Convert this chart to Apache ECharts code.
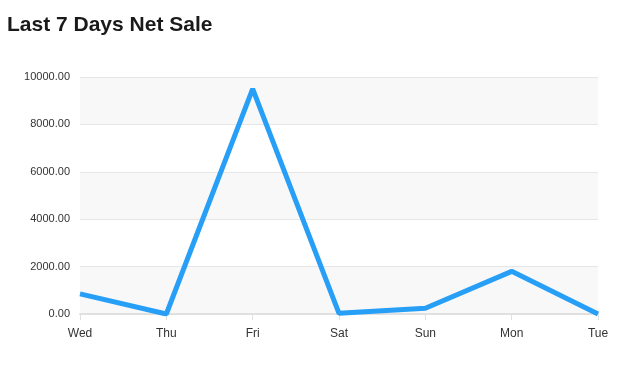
<!DOCTYPE html>
<html><head><meta charset="utf-8">
<script src="https://cdn.jsdelivr.net/npm/echarts@6/dist/echarts.min.js"></script>
<style>html,body{margin:0;padding:0;background:#fff}#c{width:625px;height:391px}</style>
</head><body><div id="c"></div>
<script>
var categories = ['Wed','Thu','Fri','Sat','Sun','Mon','Tue'];
var netSale = [850, 0, 9500, 30, 240, 1800, 0];
var yTicks = [0, 2000, 4000, 6000, 8000, 10000];

var chart = echarts.init(document.getElementById('c'));
chart.setOption({
  animation: false,
  title: {
    text: 'Last 7 Days Net Sale',
    left: 2, top: 10,
    textStyle: {fontFamily: 'Liberation Sans, Arial, sans-serif', fontSize: 21, fontWeight: 'bold', color: '#1a1a1a'}
  },
  grid: {left: 80, right: 27, top: 77, bottom: 77},
  xAxis: {
    type: 'category', data: categories, boundaryGap: false,
    axisLine: {lineStyle: {color: '#e0e0e0', width: 2}},
    axisTick: {show: true, length: 6, lineStyle: {color: '#e0e0e0'}},
    axisLabel: {color: '#333', fontSize: 12, fontFamily: 'Liberation Sans, Arial, sans-serif', margin: 14}
  },
  yAxis: {
    type: 'value', min: yTicks[0], max: yTicks[yTicks.length-1], interval: 2000,
    axisLine: {show: false}, axisTick: {show: false},
    axisLabel: {color: '#333', fontSize: 11, fontFamily: 'Liberation Sans, Arial, sans-serif', margin: 10,
      formatter: function(v){ return v.toFixed(2); }},
    splitLine: {lineStyle: {color: '#e6e6e6'}},
    splitArea: {show: true, areaStyle: {color: ['#f8f8f8', '#ffffff']}}
  },
  series: [{
    type: 'line', data: netSale, showSymbol: false, symbol: 'none',
    lineStyle: {color: '#279ff7', width: 5}, itemStyle: {color: '#279ff7'}
  }]
});
</script></body></html>
